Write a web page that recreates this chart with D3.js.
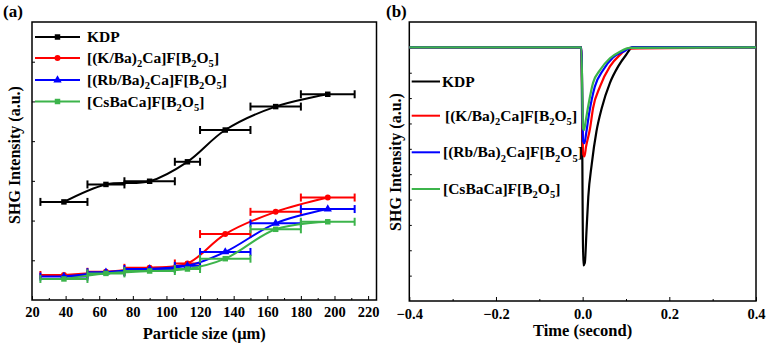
<!DOCTYPE html>
<html><head><meta charset="utf-8">
<script src="https://cdn.jsdelivr.net/npm/d3@7"></script>
<style>
html,body{margin:0;padding:0;background:#fff;}
text{font-family:"Liberation Serif","Times New Roman",serif;font-weight:bold;fill:#000;}
</style></head>
<body><svg id="c" width="769" height="350"></svg>
<script>
// ---------- data: panel (a) ----------
const sizeCenters = [39, 64, 90, 112.5, 135, 165, 196];
const sizeLow     = [25, 53, 75, 105, 120, 150, 180];
const sizeHigh    = [53, 75, 105, 120, 150, 180, 212];
const kdpSHG   = [2.47, 2.91, 2.99, 3.48, 4.28, 4.87, 5.18];
const kbaSHG   = [0.63, 0.71, 0.81, 0.92, 1.66, 2.22, 2.58];
const rbbaSHG  = [0.59, 0.70, 0.78, 0.86, 1.21, 1.93, 2.29];
const csbaSHG  = [0.53, 0.67, 0.73, 0.78, 1.04, 1.78, 1.97];
const xTicksA  = [20, 40, 60, 80, 100, 120, 140, 160, 180, 200, 220];
const xMinorA  = [30, 50, 70, 90, 110, 130, 150, 170, 190, 210];
const yTicksA  = [1, 2, 3, 4, 5, 6];
// ---------- data: panel (b) ----------
const kdpT  = [-0.4, -0.003, 0.0015, 0.005, 0.009, 0.013, 0.021, 0.032, 0.044, 0.063, 0.082, 0.1, 0.115, 0.4];
const kdpV  = [10, 10, 1.4, 1.5, 2.8, 4.1, 5.4, 6.7, 7.6, 8.6, 9.25, 9.7, 10, 10];
const kbaT  = [-0.4, -0.003, 0.001, 0.004, 0.008, 0.017, 0.024, 0.04, 0.063, 0.086, 0.105, 0.4];
const kbaV  = [10, 10, 5.8, 5.7, 6.1, 6.8, 7.6, 8.45, 9.25, 9.7, 9.95, 10];
const rbbaT = [-0.4, -0.003, 0.001, 0.004, 0.008, 0.015, 0.028, 0.047, 0.07, 0.098, 0.114, 0.4];
const rbbaV = [10, 10, 6.3, 6.22, 6.6, 7.4, 8.45, 9.1, 9.6, 9.87, 10, 10];
const csbaT = [-0.4, -0.003, 0.001, 0.003, 0.007, 0.013, 0.024, 0.04, 0.063, 0.086, 0.109, 0.4];
const csbaV = [10, 10, 6.8, 6.74, 7.1, 7.7, 8.6, 9.1, 9.57, 9.83, 9.98, 10];
const xTicksB = [-0.4, -0.2, 0.0, 0.2, 0.4];
const xMinorB = [-0.3, -0.1, 0.1, 0.3];
const yTicksB = [1, 2, 3, 4, 5, 6, 7, 8, 9, 10];
// ---------- labels ----------
const seriesNames = ["KDP", "[(K/Ba)2Ca]F[B2O5]", "[(Rb/Ba)2Ca]F[B2O5]", "[CsBaCa]F[B2O5]"];
const seriesColors = ["#000000", "#ff0000", "#0000ff", "#3cb44b"];
const panelLabels = ["(a)", "(b)"];
const xTitles = ["Particle size (\u03bcm)", "Time (second)"];
const yTitle = "SHG Intensity (a.u.)";

const svg = d3.select("#c");

function richText(sel, label, fs) {
  const parts = [];
  const re = /(\d+)|([^\d]+)/g; let m;
  while ((m = re.exec(label)) !== null) parts.push(m[1] ? {t: m[1], sub: true} : {t: m[2], sub: false});
  let prevSub = false;
  parts.forEach(p => {
    const ts = sel.append("tspan").text(p.t);
    if (p.sub) { ts.attr("font-size", fs * 0.68).attr("dy", prevSub ? 0 : fs * 0.28); }
    else { ts.attr("font-size", fs).attr("dy", prevSub ? -fs * 0.28 : 0); }
    prevSub = p.sub;
  });
}

// ================= Panel (a) =================
const xA = d3.scaleLinear().domain([20, 225]).range([32, 376.5]);
const yA = d3.scaleLinear().domain([0, 7]).range([300, 22]);
const gA = svg.append("g");

const axA = gA.append("g").attr("transform", "translate(0,300)")
  .call(d3.axisBottom(xA).tickValues(xTicksA).tickSizeInner(-4).tickSizeOuter(0).tickPadding(7).tickFormat(d3.format("d")));
axA.select(".domain").remove();
axA.selectAll("text").attr("font-size", 14.5).attr("font-family", null);
gA.append("g").attr("transform", "translate(0,300)")
  .call(d3.axisBottom(xA).tickValues(xMinorA).tickSizeInner(-2).tickSizeOuter(0).tickFormat(""))
  .select(".domain").remove();
gA.append("g").attr("transform", "translate(32,0)")
  .call(d3.axisLeft(yA).tickValues(yTicksA).tickSizeInner(-3).tickSizeOuter(0).tickFormat(""))
  .select(".domain").remove();

gA.append("rect").attr("x", xA(20)).attr("y", yA(7)).attr("width", xA(225) - xA(20)).attr("height", yA(0) - yA(7))
  .attr("fill", "none").attr("stroke", "#000").attr("stroke-width", 1.5);

const seriesA = [kdpSHG, kbaSHG, rbbaSHG, csbaSHG];
const symbolsA = [d3.symbolSquare, d3.symbolCircle, d3.symbolTriangle, d3.symbolSquare];
const symSize = [30, 28, 30, 30];
const lineA = d3.line().x(d => xA(d[0])).y(d => yA(d[1])).curve(d3.curveCatmullRom.alpha(0.5));

seriesA.forEach((vals, si) => {
  const col = seriesColors[si];
  const pts = sizeCenters.map((c, i) => [c, vals[i]]);
  const g = gA.append("g");
  pts.forEach((p, i) => {
    const y = yA(p[1]);
    g.append("line").attr("x1", xA(sizeLow[i])).attr("x2", xA(sizeHigh[i])).attr("y1", y).attr("y2", y)
      .attr("stroke", col).attr("stroke-width", 2);
    [sizeLow[i], sizeHigh[i]].forEach(e => {
      g.append("line").attr("x1", xA(e)).attr("x2", xA(e)).attr("y1", y - 4).attr("y2", y + 4)
        .attr("stroke", col).attr("stroke-width", 2);
    });
  });
  g.append("path").attr("d", lineA(pts)).attr("fill", "none").attr("stroke", col).attr("stroke-width", 2);
  g.selectAll("path.m").data(pts).join("path").attr("class", "m")
    .attr("transform", d => `translate(${xA(d[0])},${yA(d[1])})`)
    .attr("d", d3.symbol().type(symbolsA[si]).size(symSize[si])).attr("fill", col);
});

const legYA = [37, 58, 80, 101.5];
seriesNames.forEach((name, i) => {
  const y = legYA[i];
  gA.append("line").attr("x1", 35).attr("x2", 80).attr("y1", y).attr("y2", y)
    .attr("stroke", seriesColors[i]).attr("stroke-width", 2);
  gA.append("path").attr("transform", `translate(57.5,${y})`)
    .attr("d", d3.symbol().type(symbolsA[i]).size(symSize[i])).attr("fill", seriesColors[i]);
  const t = gA.append("text").attr("x", 87).attr("y", y + 5);
  if (i === 0) t.attr("font-size", 15.5).text(name); else richText(t, name, 15.5);
});

gA.append("text").attr("x", 3).attr("y", 17).attr("font-size", 17).text(panelLabels[0]);
gA.append("text").attr("x", xA(20) + (xA(225) - xA(20)) / 2).attr("y", 339).attr("text-anchor", "middle")
  .attr("font-size", 16.5).text(xTitles[0]);
gA.append("text").attr("transform", `translate(20,155) rotate(-90)`).attr("text-anchor", "middle")
  .attr("font-size", 16).text(yTitle);

// ================= Panel (b) =================
const xB = d3.scaleLinear().domain([-0.4, 0.4]).range([409.3, 756]);
const yB = d3.scaleLinear().domain([0, 11]).range([301, 22]);
const gB = svg.append("g");

const axB = gB.append("g").attr("transform", "translate(0,301)")
  .call(d3.axisBottom(xB).tickValues(xTicksB).tickSizeInner(-4).tickSizeOuter(0).tickPadding(8).tickFormat(d3.format(".1f")));
axB.select(".domain").remove();
axB.selectAll("text").attr("font-size", 14.5).attr("font-family", null);
gB.append("g").attr("transform", "translate(0,301)")
  .call(d3.axisBottom(xB).tickValues(xMinorB).tickSizeInner(-2).tickSizeOuter(0).tickFormat(""))
  .select(".domain").remove();
gB.append("g").attr("transform", "translate(409.3,0)")
  .call(d3.axisLeft(yB).tickValues(yTicksB).tickSizeInner(-2.5).tickSizeOuter(0).tickFormat(""))
  .select(".domain").remove();

gB.append("rect").attr("x", xB(-0.4)).attr("y", yB(11)).attr("width", xB(0.4) - xB(-0.4)).attr("height", yB(0) - yB(11))
  .attr("fill", "none").attr("stroke", "#000").attr("stroke-width", 1.5);

const seriesB = [[kdpT, kdpV], [kbaT, kbaV], [rbbaT, rbbaV], [csbaT, csbaV]];
const lineB = d3.line().x(d => xB(d[0])).y(d => yB(d[1])).curve(d3.curveMonotoneX);
seriesB.forEach((s, si) => {
  const pts = s[0].map((t, i) => [t, s[1][i]]);
  gB.append("path").attr("d", lineB(pts)).attr("fill", "none")
    .attr("stroke", seriesColors[si]).attr("stroke-width", 2.2).attr("stroke-linejoin", "round");
});

const legB = [{y: 81.5, tx: 442}, {y: 115.7, tx: 445}, {y: 152.3, tx: 443}, {y: 189, tx: 443}];
seriesNames.forEach((name, i) => {
  const L = legB[i];
  gB.append("line").attr("x1", 411.7).attr("x2", 440).attr("y1", L.y).attr("y2", L.y)
    .attr("stroke", seriesColors[i]).attr("stroke-width", 2);
  const t = gB.append("text").attr("x", L.tx).attr("y", L.y + 5);
  if (i === 0) t.attr("font-size", 15.5).text(name); else richText(t, name, 15.5);
});

gB.append("text").attr("x", 386).attr("y", 17).attr("font-size", 17).text(panelLabels[1]);
gB.append("text").attr("x", xB(0)).attr("y", 336).attr("text-anchor", "middle")
  .attr("font-size", 16.5).text(xTitles[1]);
gB.append("text").attr("transform", `translate(401,162) rotate(-90)`).attr("text-anchor", "middle")
  .attr("font-size", 16).text(yTitle);
</script></body></html>
